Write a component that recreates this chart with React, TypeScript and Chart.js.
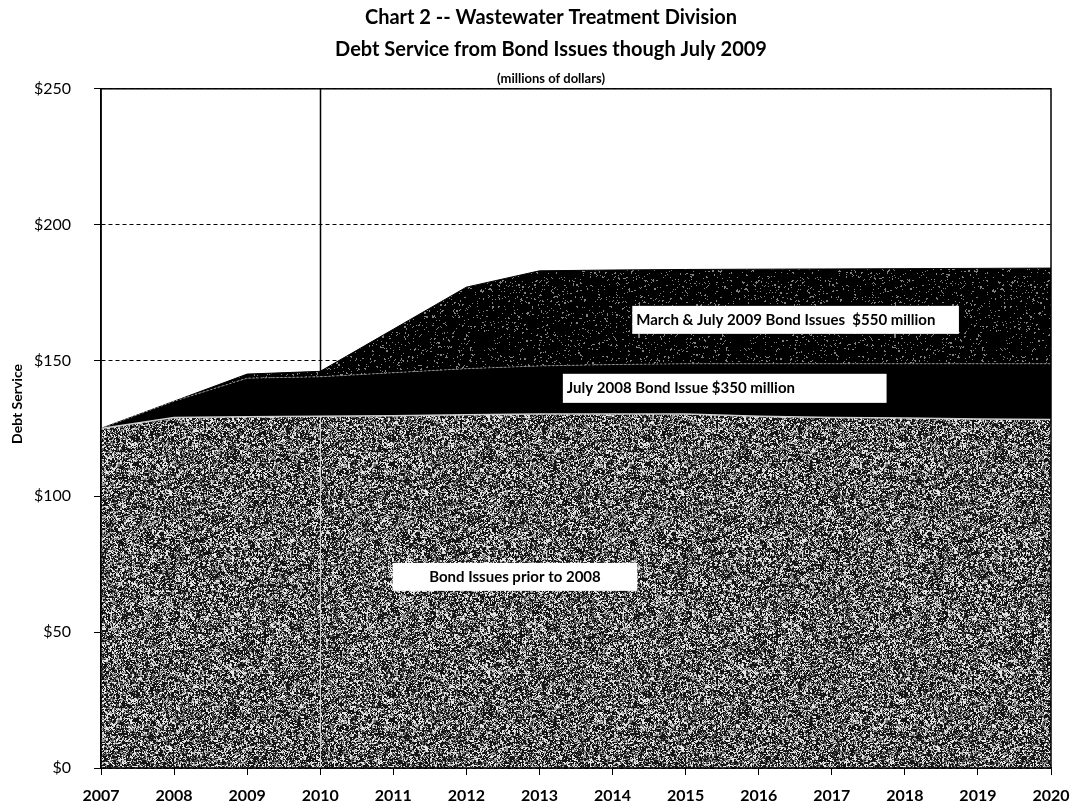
import React, { useEffect, useRef } from 'react';
import { Chart, registerables } from 'chart.js';

Chart.register(...registerables);

// Fiscal years on the horizontal axis
const years = ['2007', '2008', '2009', '2010', '2011', '2012', '2013', '2014', '2015', '2016', '2017', '2018', '2019', '2020'];

// Annual debt service, millions of dollars, by bond issue group (stacked)
const priorIssues = [125, 129, 129.3, 129.5, 129.7, 130, 130.3, 130.3, 130.3, 129.5, 129, 128.8, 128.5, 128.3];
const july2008Issue = [0, 6, 14.2, 14.5, 15.8, 17, 17.7, 18.2, 18.5, 19.3, 19.8, 20, 20.3, 20.5];
const marchJuly2009Issues = [0, 0, 1.5, 2, 16, 30, 35, 34.8, 34.7, 34.8, 34.9, 35, 35.1, 35.2];

const yTickValues = [0, 50, 100, 150, 200, 250];

const titleLines = ['Chart 2 -- Wastewater Treatment Division', 'Debt Service from Bond Issues though July 2009'];
const subtitleText = '(millions of dollars)';
const yAxisTitle = 'Debt Service';
const markerYear = 2010;

// Boxed captions placed in data units (year, $ millions)
const captions = [
  { text: 'March & July 2009 Bond Issues  $550 million', x0: 2014.27, x1: 2018.74, yTop: 170.1, yBottom: 159.8, align: 'left' },
  { text: 'July 2008 Bond Issue $350 million', x0: 2013.32, x1: 2017.75, yTop: 145.1, yBottom: 134.4, align: 'left' },
  { text: 'Bond Issues prior to 2008', x0: 2010.99, x1: 2014.34, yTop: 75.5, yBottom: 65.2, align: 'center' },
];

const FONT = 'Lato, "Open Sans", "DejaVu Sans", sans-serif';

function hash2(x: number, y: number, seed: number): number {
  let h = (Math.imul(x, 374761393) + Math.imul(y, 668265263) + Math.imul(seed, 2246822519)) | 0;
  h = Math.imul(h ^ (h >>> 13), 1274126177);
  h ^= h >>> 16;
  h = Math.imul(h, 0x85ebca6b);
  h ^= h >>> 13;
  return (h >>> 0) / 4294967296;
}

// Stipple texture: mixes 2px clumps with single-pixel grain
function makeStipple(size: number, seed: number, pick: (r: number) => number): CanvasPattern | string {
  const c = document.createElement('canvas');
  c.width = size;
  c.height = size;
  const g = c.getContext('2d');
  if (!g) return '#666';
  const img = g.createImageData(size, size);
  for (let y = 0; y < size; y++) {
    for (let x = 0; x < size; x++) {
      const i = y * size + x;
      const useCoarse = hash2(x, y, seed + 7) < 0.5;
      const r = useCoarse ? hash2(x >> 1, y >> 1, seed + 101) : hash2(x, y, seed);
      const v = pick(r);
      img.data[i * 4] = v;
      img.data[i * 4 + 1] = v;
      img.data[i * 4 + 2] = v;
      img.data[i * 4 + 3] = 255;
    }
  }
  g.putImageData(img, 0, 0);
  return g.createPattern(c, 'repeat') || '#666';
}

const yearIndex = (y: number) => y - Number(years[0]);

const overlayPlugin = {
  id: 'overlay',
  afterDatasetsDraw(chart: any) {
    const { ctx, chartArea, scales } = chart;
    const xs = scales.x;
    const ys = scales.y;
    const i = yearIndex(markerYear);
    const px = Math.round(xs.getPixelForValue(i)) + 0.5;
    const topStack = priorIssues[i] + july2008Issue[i] + marchJuly2009Issues[i];
    ctx.save();
    // marker line for the 2010 year
    ctx.lineWidth = 1.5;
    ctx.strokeStyle = '#000';
    ctx.beginPath();
    ctx.moveTo(px, chartArea.top);
    ctx.lineTo(px, ys.getPixelForValue(topStack));
    ctx.stroke();
    ctx.strokeStyle = '#d0d0d0';
    ctx.lineWidth = 1;
    ctx.beginPath();
    ctx.moveTo(px, ys.getPixelForValue(priorIssues[i]));
    ctx.lineTo(px, chartArea.bottom);
    ctx.stroke();

    // plot frame
    ctx.strokeStyle = '#000';
    ctx.lineWidth = 1.5;
    ctx.strokeRect(chartArea.left, chartArea.top, chartArea.right - chartArea.left, chartArea.bottom - chartArea.top);

    // caption boxes
    ctx.font = `bold 15px ${FONT}`;
    ctx.textBaseline = 'middle';
    captions.forEach((c) => {
      const l = xs.getPixelForValue(yearIndex(c.x0));
      const r = xs.getPixelForValue(yearIndex(c.x1));
      const t = ys.getPixelForValue(c.yTop);
      const b = ys.getPixelForValue(c.yBottom);
      ctx.fillStyle = '#fff';
      ctx.fillRect(l, t, r - l, b - t);
      ctx.fillStyle = '#000';
      if (c.align === 'center') {
        ctx.textAlign = 'center';
        ctx.fillText(c.text, (l + r) / 2, (t + b) / 2);
      } else {
        ctx.textAlign = 'left';
        ctx.fillText(c.text, l + 4, (t + b) / 2);
      }
    });

    // vertical axis title
    ctx.save();
    ctx.translate(17, ys.getPixelForValue(134));
    ctx.rotate(-Math.PI / 2);
    ctx.font = `bold 14px ${FONT}`;
    ctx.textAlign = 'center';
    ctx.fillText(yAxisTitle, 0, 0);
    ctx.restore();
    ctx.restore();
  },
};

export default function App() {
  const canvasRef = useRef<HTMLCanvasElement | null>(null);

  useEffect(() => {
    const canvas = canvasRef.current;
    if (!canvas) return;

    const greyStipple = makeStipple(256, 11, (r) => (r < 0.47 ? 20 : r < 0.62 ? 95 : r < 0.77 ? 165 : 230));
    const darkStipple = makeStipple(256, 29, (r) => (r < 0.93 ? 0 : 130));

    const chart = new Chart(canvas, {
      type: 'line',
      data: {
        labels: years,
        datasets: [
          {
            label: 'Bond Issues prior to 2008',
            data: priorIssues,
            fill: 'origin',
            backgroundColor: greyStipple as any,
            borderColor: '#cfcfcf',
            borderWidth: 1.5,
            pointRadius: 0,
            tension: 0,
          },
          {
            label: 'July 2008 Bond Issue $350 million',
            data: july2008Issue,
            fill: '-1',
            backgroundColor: '#000',
            borderColor: '#9a9a9a',
            borderWidth: 1,
            borderDash: [2, 2],
            pointRadius: 0,
            tension: 0,
          },
          {
            label: 'March & July 2009 Bond Issues $550 million',
            data: marchJuly2009Issues,
            fill: '-1',
            backgroundColor: darkStipple as any,
            borderColor: '#000',
            borderWidth: 1,
            pointRadius: 0,
            tension: 0,
          },
        ],
      },
      options: {
        animation: false,
        responsive: true,
        maintainAspectRatio: false,
        layout: { padding: { left: 26, right: 0, top: 0, bottom: 0 } },
        plugins: {
          legend: { display: false },
          tooltip: { enabled: false },
          title: {
            display: true,
            text: titleLines,
            color: '#000',
            font: { family: FONT, size: 20, weight: 'bold', lineHeight: 1.6 },
            padding: { top: 2, bottom: 0 },
          },
          subtitle: {
            display: true,
            text: subtitleText,
            color: '#000',
            font: { family: FONT, size: 13, weight: 'bold', lineHeight: 1.2 },
            padding: { top: 5, bottom: 2.2 },
          },
        },
        scales: {
          x: {
            type: 'category',
            offset: false,
            grid: { display: true, drawOnChartArea: false, drawTicks: true, tickLength: 7, tickColor: '#000', color: '#000' },
            border: { display: true, color: '#000', width: 1.5 },
            ticks: {
              color: '#000',
              padding: 11,
              maxRotation: 0,
              autoSkip: false,
              font: { family: FONT, size: 16, weight: 'bold' },
            },
            afterFit: (scale: any) => {
              scale.height = 41;
              scale.paddingRight = 25;
            },
          },
          y: {
            stacked: true,
            min: 0,
            max: 250,
            grid: { display: true, color: '#000', lineWidth: 1, drawTicks: true, tickLength: 7, tickColor: '#000' },
            border: { display: true, color: '#000', width: 1.5, dash: [4, 3] },
            ticks: {
              color: '#000',
              padding: 23,
              stepSize: 50,
              font: { family: FONT, size: 16 },
              callback: (v: any) => (yTickValues.includes(Number(v)) ? '$' + v : ''),
            },
            afterFit: (scale: any) => {
              scale.width = 75;
            },
          },
        },
      },
      plugins: [overlayPlugin],
    });

    return () => chart.destroy();
  }, []);

  return (
    <div style={{ position: 'fixed', left: 0, top: 0, width: 1076, height: 809, background: '#fff' }}>
      <canvas ref={canvasRef} />
    </div>
  );
}
